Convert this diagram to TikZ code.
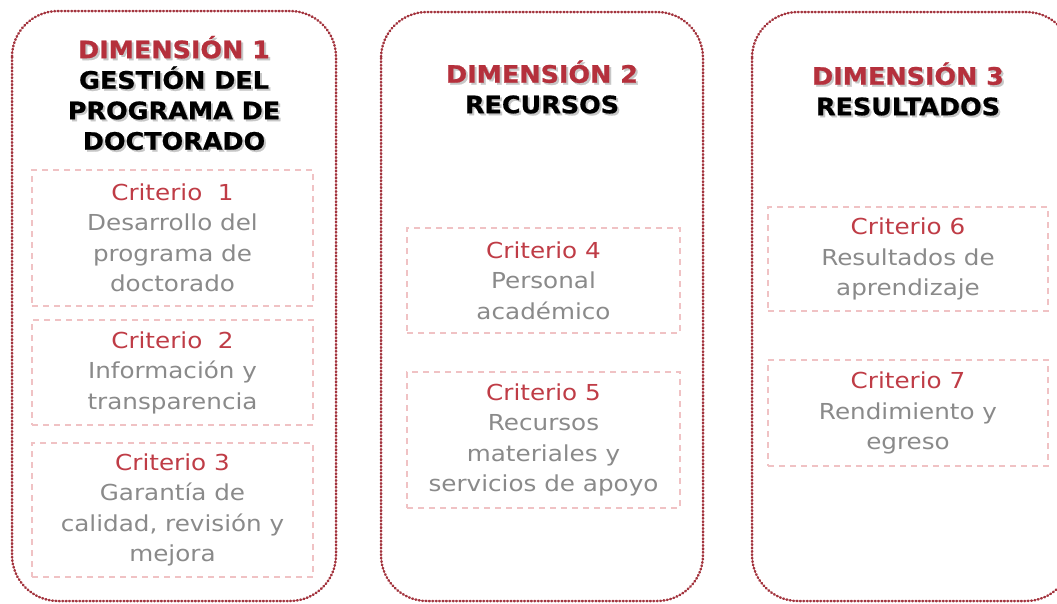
\documentclass[tikz,border=0pt]{standalone}
\usepackage{fontspec}
\newfontfamily\hdrfont[FakeStretch=1.06,FakeBold=0.8]{DejaVu Sans}
\newfontfamily\txtfont[FakeStretch=1.12]{DejaVu Sans}
\definecolor{dotred}{HTML}{A3343E}
\definecolor{hdrred}{HTML}{B5303C}
\definecolor{critred}{HTML}{BF3C46}
\definecolor{txtgray}{HTML}{8A8A8A}
\definecolor{dashpink}{HTML}{F0C2C4}
\tikzset{
  dimbox/.style={draw=dotred, line width=2.5pt, line cap=round, dash pattern=on 0.8pt off 2.6pt, rounded corners=46pt},
  critbox/.style={draw=dashpink, line width=1.6pt, dash pattern=on 6pt off 5pt, align=center, inner sep=0pt,
     font=\txtfont\fontsize{22}{30.5}\selectfont, text=txtgray},
  hdr/.style={align=center, font=\hdrfont\bfseries\fontsize{24}{30.5}\selectfont, text=black},
  hdrshadow/.style={hdr, text=black!22},
}
\newcommand{\crt}[1]{\textcolor{critred}{#1}}
\newcommand{\dimr}[1]{\textcolor{hdrred}{#1}}
\begin{document}
\begin{tikzpicture}[x=1pt,y=-1pt]
\useasboundingbox (0,0) rectangle (1057,603);
\begin{scope}
\clip (0,0) rectangle (1057,603);
\draw[dimbox] (12,11) rectangle (336,601);
\draw[dimbox] (381,12) rectangle (703,601);
\draw[dimbox] (752,12) rectangle (1072,601);
\end{scope}
% header shadows
\node[hdrshadow] (h1s) at (176,95) {DIMENSIÓN 1\\GESTIÓN DEL\\PROGRAMA DE\\DOCTORADO};
\node[hdrshadow] (h2s) at (544,89) {DIMENSIÓN 2\\RECURSOS};
\node[hdrshadow] (h3s) at (910,91) {DIMENSIÓN 3\\RESULTADOS};
% headers
\node[hdr] (h1) at (174,93) {\dimr{DIMENSIÓN 1}\\GESTIÓN DEL\\PROGRAMA DE\\DOCTORADO};
\node[hdr] (h2) at (542,87) {\dimr{DIMENSIÓN 2}\\RECURSOS};
\node[hdr] (h3) at (908,89) {\dimr{DIMENSIÓN 3}\\RESULTADOS};
% criteria
\node[critbox, minimum width=281pt, minimum height=136pt] (c1) at (172.5,238) {\crt{Criterio\ \ 1}\\Desarrollo del\\programa de\\doctorado};
\node[critbox, minimum width=281pt, minimum height=105pt] (c2) at (172.5,372.5) {\crt{Criterio\ \ 2}\\Información y\\transparencia};
\node[critbox, minimum width=281pt, minimum height=134pt] (c3) at (172.5,510) {\crt{Criterio 3}\\Garantía de\\calidad, revisión y\\mejora};
\node[critbox, minimum width=273pt, minimum height=105pt] (c4) at (543.5,280.5) {\crt{Criterio 4}\\Personal\\académico};
\node[critbox, minimum width=273pt, minimum height=136pt] (c5) at (543.5,440) {\crt{Criterio 5}\\Recursos\\materiales y\\servicios de apoyo};
\node[critbox, minimum width=280pt, minimum height=104pt] (c6) at (908,259) {\crt{Criterio 6}\\Resultados de\\aprendizaje};
\node[critbox, minimum width=280pt, minimum height=106pt] (c7) at (908,413) {\crt{Criterio 7}\\Rendimiento y\\egreso};
\end{tikzpicture}
\end{document}
